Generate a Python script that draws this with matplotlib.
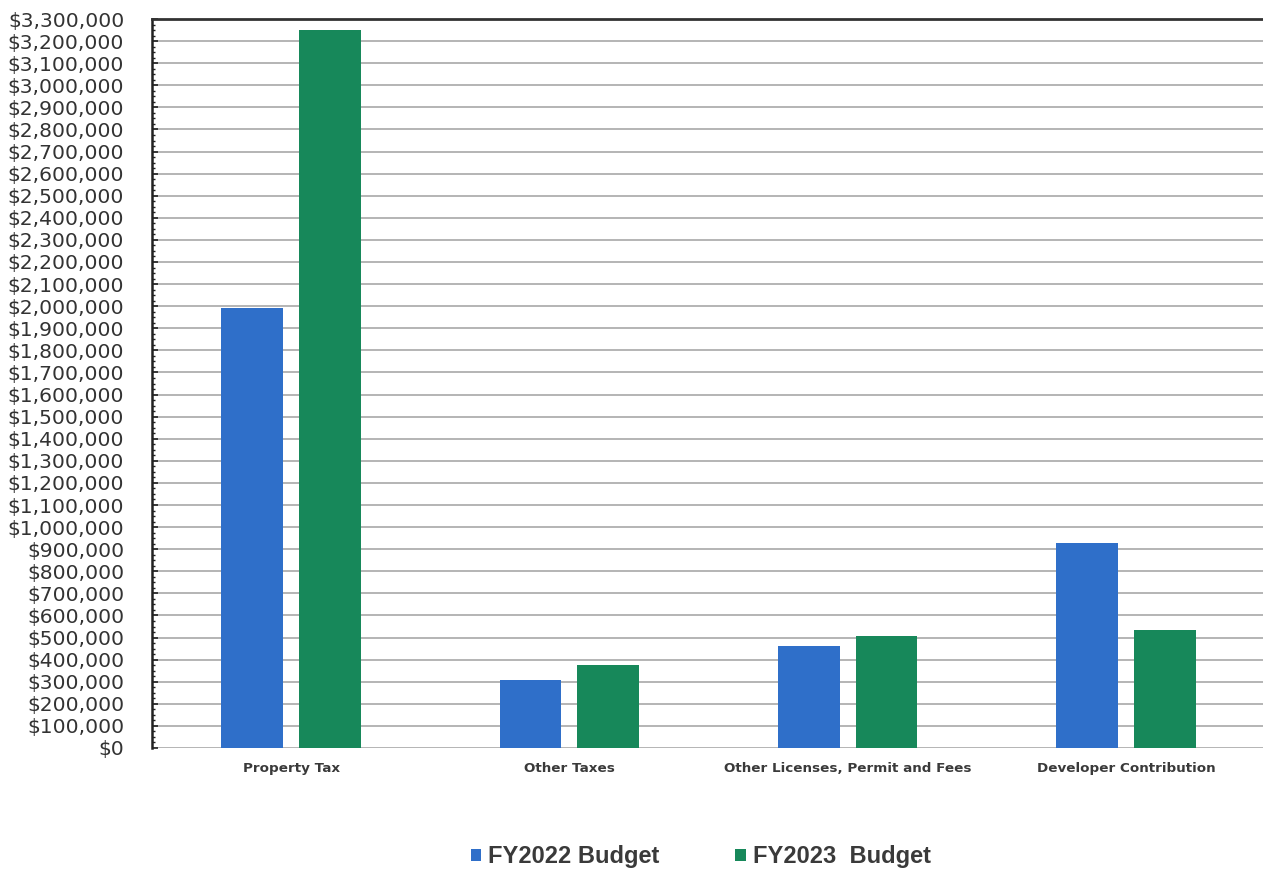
import matplotlib.pyplot as plt
import numpy as np
from matplotlib.ticker import FuncFormatter, MultipleLocator

categories = ["Property Tax", "Other Taxes", "Other Licenses, Permit and Fees", "Developer Contribution"]
fy2022 = [1990000, 308000, 462000, 928000]
fy2023 = [3250000, 375000, 507000, 534000]
series_names = ["FY2022 Budget", "FY2023  Budget"]

blue = "#2f6fc9"
green = "#17885a"
txt = "#3a3a3a"

fig = plt.figure(figsize=(12.63, 8.74), dpi=100)
ax = fig.add_axes([152 / 1263, 126 / 874, 1113 / 1263, 729 / 874])

x = np.arange(len(categories))
w = 0.222
off = 0.14
ax.bar(x - off, fy2022, w, color=blue, label=series_names[0], zorder=3)
ax.bar(x + off, fy2023, w, color=green, label=series_names[1], zorder=3)

ax.set_xlim(-0.5, 3.5)
ax.set_ylim(0, 3300000)
ax.yaxis.set_major_locator(MultipleLocator(100000))
ax.yaxis.set_minor_locator(MultipleLocator(25000))
ax.yaxis.set_major_formatter(FuncFormatter(lambda v, p: f"${v:,.0f}"))
ax.grid(axis="y", color="#b4b4b4", linewidth=1.4, zorder=0)

ax.tick_params(axis="y", which="major", direction="in", length=4, width=1.2,
               color="#222222", labelsize=14.6, labelcolor="#333333", pad=20)
ax.tick_params(axis="y", which="minor", direction="in", length=2.5, width=1, color="#222222")
for lbl in ax.get_yticklabels():
    lbl.set_fontfamily("DejaVu Sans")

ax.set_xticks(x)
ax.set_xticklabels(categories, fontfamily=["Liberation Sans Narrow", "DejaVu Sans"],
                   fontweight="bold", fontsize=9.7, color=txt)
ax.tick_params(axis="x", length=0, pad=10)

ax.spines["top"].set_linewidth(2)
ax.spines["top"].set_color("#333333")
ax.spines["left"].set_linewidth(1.8)
ax.spines["left"].set_color("#222222")
ax.spines["right"].set_visible(False)
ax.spines["bottom"].set_visible(False)

leg = fig.legend(loc="center", bbox_to_anchor=(0.555, 1 - 857 / 874), ncol=2, frameon=False,
                 handlelength=0.45, handleheight=0.45, handletextpad=0.3, columnspacing=3.2,
                 prop={"family": "Liberation Sans", "weight": "bold", "size": 17})
for t in leg.get_texts():
    t.set_color(txt)

fig.savefig("out.png", dpi=100)
